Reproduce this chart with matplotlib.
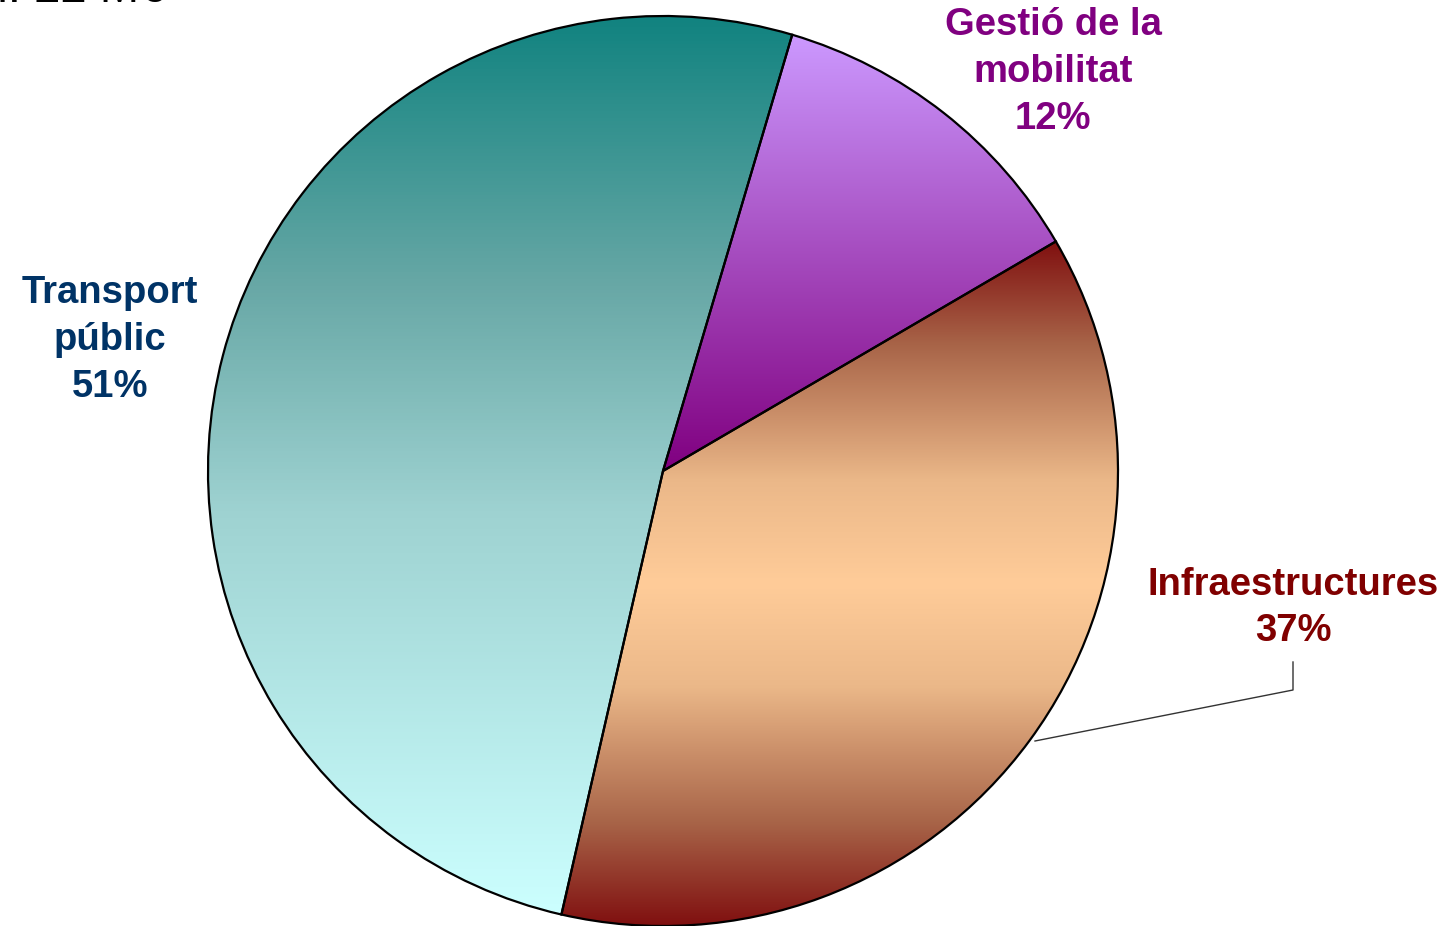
import numpy as np
import matplotlib.pyplot as plt
from matplotlib.colors import LinearSegmentedColormap

plt.rcParams['font.family'] = ['Liberation Sans', 'DejaVu Sans']

labels = ["Gestió de la\nmobilitat", "Infraestructures", "Transport\npúblic"]
values = [12, 37, 51]
label_colors = ["#800080", "#800000", "#003366"]
# gradient stops from top to bottom of each slice
grad_stops = [[(0, "#CC99FF"), (1, "#800080")],
              [(0, "#801010"), (0.15, "#A86448"), (0.35, "#EBB889"), (0.5, "#FFCC99"),
               (0.65, "#EBB889"), (0.85, "#A86448"), (1, "#801010")],
              [(0, "#118380"), (0.3, "#68A8A6"), (0.55, "#9ED2D1"), (1, "#CCFFFF")]]

W, H = 1450, 926
fig = plt.figure(figsize=(W / 100, H / 100), dpi=100)
ax = fig.add_axes([0, 0, 1, 1])

cx, cy, r = 663, H - 471, 455
wedges, _ = ax.pie(values, center=(cx, cy), radius=r, startangle=73.5,
                   counterclock=False, frame=True,
                   wedgeprops=dict(edgecolor='black', linewidth=1.6, facecolor='none'))
ax.set_xlim(0, W)
ax.set_ylim(0, H)
ax.axis('off')
ax.set_aspect('equal')

for w, stops in zip(wedges, grad_stops):
    t = np.radians(np.linspace(w.theta1, w.theta2, 400))
    ys = np.concatenate([cy + r * np.sin(t), [cy]])
    xs = np.concatenate([cx + r * np.cos(t), [cx]])
    cmap = LinearSegmentedColormap.from_list("g", stops)
    grad = np.linspace(1, 0, 256).reshape(-1, 1)
    im = ax.imshow(grad, cmap=cmap, aspect='auto', origin='lower',
                   extent=[xs.min(), xs.max(), ys.min(), ys.max()], zorder=1)
    im.set_clip_path(w)
    w.set_zorder(2)

txt = dict(ha='center', va='center', fontsize=27.5, fontweight='bold', linespacing=1.38)
ax.text(1053, H - 72, labels[0] + "\n12%", color=label_colors[0], **txt)
ax.text(1293, H - 608, labels[1] + "\n37%", color=label_colors[1], **txt)
ax.text(110, H - 340, labels[2] + "\n51%", color=label_colors[2], **txt)

# leader line for Infraestructures
ax.plot([1035, 1293, 1293], [H - 741, H - 690, H - 662], color='#333333', lw=1, zorder=3)

ax.text(165, H - 2, "Total: 22 M€", ha='right', va='baseline', fontsize=34, color='black')

fig.savefig("out.png", dpi=100)
